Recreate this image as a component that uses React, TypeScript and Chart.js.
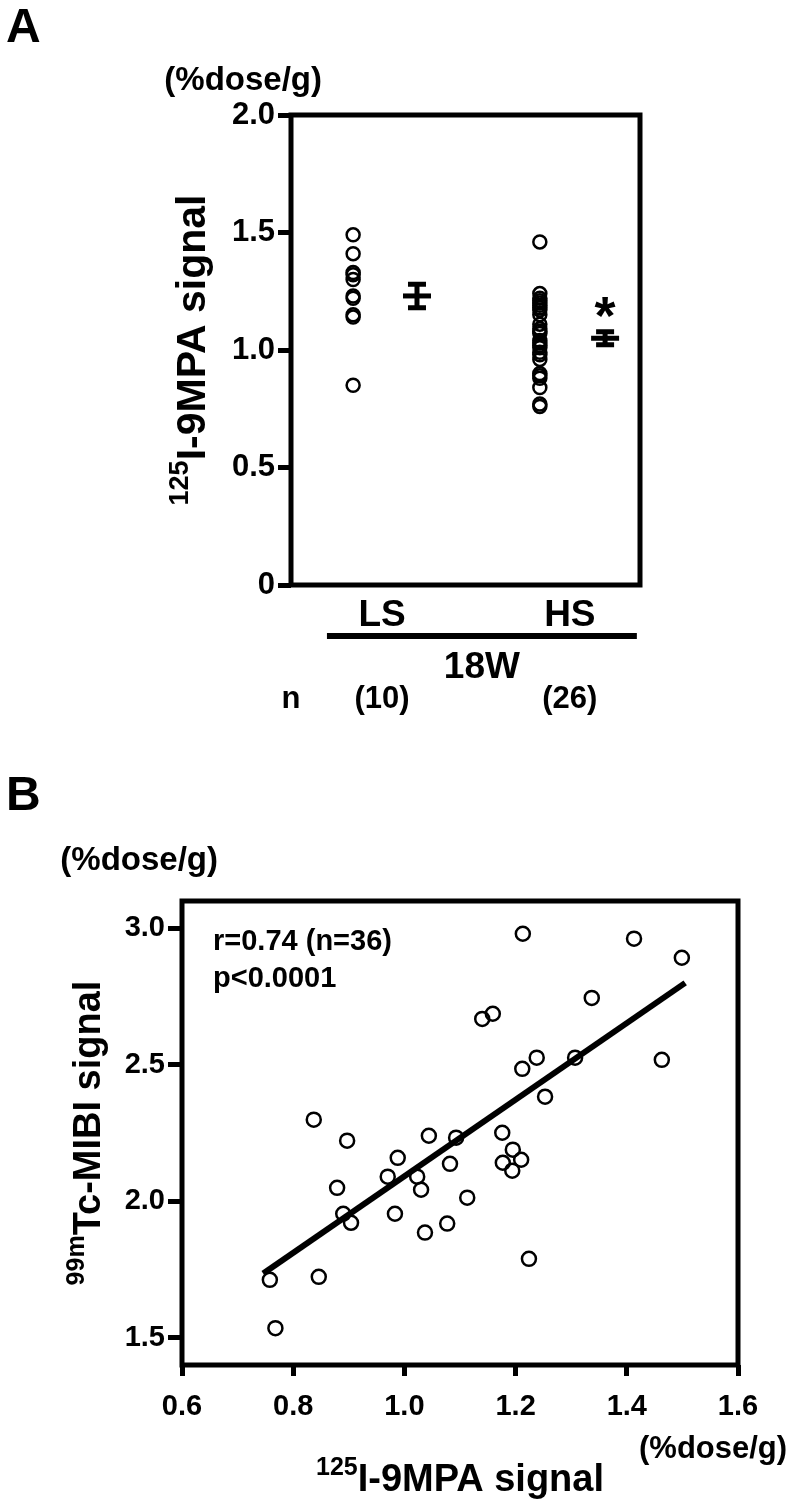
import React, { useEffect, useRef } from 'react';
import { Chart, registerables } from 'chart.js';
Chart.register(...registerables);

// ---------- Panel A data ----------
const groupLabels = ['LS', 'HS'];
const groupCounts = ['(10)', '(26)'];
const groupTitle = '18W';
const lsValues = [1.49, 1.41, 1.33, 1.32, 1.30, 1.23, 1.22, 1.15, 1.14, 0.85];
const hsValues = [1.46, 1.24, 1.22, 1.21, 1.20, 1.19, 1.18, 1.17, 1.15, 1.11, 1.09, 1.08, 1.07,
  1.04, 1.03, 1.02, 1.01, 0.99, 0.98, 0.96, 0.90, 0.89, 0.88, 0.84, 0.77, 0.76];
const groupMeans = [1.23, 1.05];
const groupSEM = [0.05, 0.028];
const yTicksA = [0, 0.5, 1.0, 1.5, 2.0];

// ---------- Panel B data ----------
const mibiX = [1.213, 1.413, 1.499, 1.337, 1.159, 1.140, 1.238, 1.212, 1.307, 1.463, 1.253, 0.837,
  0.758, 0.846, 0.897, 0.879, 0.890, 0.904, 0.970, 0.988, 0.983, 1.023, 1.030, 1.044, 1.093, 1.082,
  1.037, 1.077, 1.113, 1.176, 1.195, 1.210, 1.177, 1.194, 1.224, 0.768];
const mibiY = [2.980, 2.962, 2.892, 2.745, 2.687, 2.668, 2.526, 2.485, 2.526, 2.518, 2.383, 2.299,
  1.712, 1.723, 2.222, 2.049, 1.954, 1.921, 2.090, 2.159, 1.954, 2.090, 2.042, 2.240, 2.233, 2.137,
  1.885, 1.918, 2.013, 2.251, 2.189, 2.152, 2.141, 2.112, 1.789, 1.535];
const fitX = [0.746, 1.505];
const fitY = [1.735, 2.80];
const xTicksB = [0.6, 0.8, 1.0, 1.2, 1.4, 1.6];
const yTicksB = [1.5, 2.0, 2.5, 3.0];
const statText = ['r=0.74 (n=36)', 'p<0.0001'];

// ---------- layout (positions only) ----------
const POS_LS_PTS = 1.78, POS_LS_MEAN = 3.61, POS_HS_PTS = 7.13, POS_HS_MEAN = 9.0;
const POS_LS_LABEL = 2.61, POS_HS_LABEL = 7.99;
const UNDERLINE_FROM = 1.03, UNDERLINE_TO = 9.91;

const FONT = '"Liberation Sans", Arial, Helvetica, sans-serif';
const bf = (px: number) => `bold ${px}px ${FONT}`;

type Part = { t: string; sup?: boolean };
function drawRich(ctx: CanvasRenderingContext2D, parts: Part[], size: number, supSize: number,
  x: number, y: number, align: 'center' | 'left' | 'right', rot: number) {
  ctx.save();
  ctx.translate(x, y);
  ctx.rotate(rot);
  let total = 0;
  const widths = parts.map(p => {
    ctx.font = bf(p.sup ? supSize : size);
    const w = ctx.measureText(p.t).width;
    total += w;
    return w;
  });
  let cx = align === 'center' ? -total / 2 : align === 'right' ? -total : 0;
  ctx.textBaseline = 'alphabetic';
  ctx.textAlign = 'left';
  ctx.fillStyle = '#000';
  parts.forEach((p, i) => {
    ctx.font = bf(p.sup ? supSize : size);
    ctx.fillText(p.t, cx, p.sup ? -size * 0.42 : 0);
    cx += widths[i];
  });
  ctx.restore();
}

function text(ctx: CanvasRenderingContext2D, s: string, size: number, x: number, y: number,
  align: CanvasTextAlign) {
  ctx.save();
  ctx.font = bf(size);
  ctx.fillStyle = '#000';
  ctx.textAlign = align;
  ctx.textBaseline = 'alphabetic';
  ctx.fillText(s, x, y);
  ctx.restore();
}

const panelAPlugin = {
  id: 'panelA',
  afterDraw(c: any) {
    const ctx: CanvasRenderingContext2D = c.ctx;
    const { left, right, top, bottom } = c.chartArea;
    const xs = c.scales.x, ys = c.scales.y;
    ctx.save();
    ctx.strokeStyle = '#000';
    ctx.lineWidth = 5;
    ctx.strokeRect(left, top, right - left, bottom - top);
    const mx = [POS_LS_MEAN, POS_HS_MEAN];
    groupMeans.forEach((m, i) => {
      const px = xs.getPixelForValue(mx[i]);
      const pt = ys.getPixelForValue(m + groupSEM[i]);
      const pb = ys.getPixelForValue(m - groupSEM[i]);
      ctx.lineWidth = 5;
      ctx.beginPath();
      ctx.moveTo(px, pt); ctx.lineTo(px, pb);
      ctx.moveTo(px - 9, pt); ctx.lineTo(px + 9, pt);
      ctx.moveTo(px - 9, pb); ctx.lineTo(px + 9, pb);
      ctx.stroke();
    });
    text(ctx, '*', 54, xs.getPixelForValue(POS_HS_MEAN), ys.getPixelForValue(groupMeans[1] + groupSEM[1]) + 2, 'center');
    text(ctx, groupLabels[0], 37, xs.getPixelForValue(POS_LS_LABEL), bottom + 41, 'center');
    text(ctx, groupLabels[1], 37, xs.getPixelForValue(POS_HS_LABEL), bottom + 41, 'center');
    ctx.lineWidth = 6;
    ctx.beginPath();
    ctx.moveTo(xs.getPixelForValue(UNDERLINE_FROM), bottom + 51);
    ctx.lineTo(xs.getPixelForValue(UNDERLINE_TO), bottom + 51);
    ctx.stroke();
    text(ctx, groupTitle, 37, (xs.getPixelForValue(UNDERLINE_FROM) + xs.getPixelForValue(UNDERLINE_TO)) / 2, bottom + 93, 'center');
    text(ctx, 'n', 31, left, bottom + 123, 'center');
    text(ctx, groupCounts[0], 31, xs.getPixelForValue(POS_LS_LABEL), bottom + 123, 'center');
    text(ctx, groupCounts[1], 31, xs.getPixelForValue(POS_HS_LABEL), bottom + 123, 'center');
    text(ctx, 'A', 48, 6, 42, 'left');
    text(ctx, '(%dose/g)', 33, 322, 90, 'right');
    drawRich(ctx, [{ t: '125', sup: true }, { t: 'I-9MPA signal' }], 41, 27,
      205, (top + bottom) / 2, 'center', -Math.PI / 2);
    ctx.restore();
  },
};

const panelBPlugin = {
  id: 'panelB',
  afterDraw(c: any) {
    const ctx: CanvasRenderingContext2D = c.ctx;
    const { left, right, top, bottom } = c.chartArea;
    ctx.save();
    ctx.strokeStyle = '#000';
    ctx.lineWidth = 5;
    ctx.strokeRect(left, top, right - left, bottom - top);
    text(ctx, statText[0], 29, left + 31, top + 49, 'left');
    text(ctx, statText[1], 29, left + 31, top + 86, 'left');
    text(ctx, 'B', 48, 6, 70, 'left');
    text(ctx, '(%dose/g)', 33, 218, 130, 'right');
    text(ctx, '(%dose/g)', 31, 639, bottom + 93, 'left');
    drawRich(ctx, [{ t: '125', sup: true }, { t: 'I-9MPA signal' }], 38, 25,
      (left + right) / 2, bottom + 126, 'center', 0);
    drawRich(ctx, [{ t: '99m', sup: true }, { t: 'Tc-MIBI signal' }], 38, 25,
      100, (top + bottom) / 2, 'center', -Math.PI / 2);
    ctx.restore();
  },
};

const circle = {
  pointStyle: 'circle' as const,
  pointRadius: 6.5,
  pointBorderWidth: 2.5,
  pointBorderColor: '#000',
  pointBackgroundColor: 'rgba(0,0,0,0)',
  showLine: false,
};

export default function App() {
  const refA = useRef<HTMLCanvasElement>(null);
  const refB = useRef<HTMLCanvasElement>(null);

  useEffect(() => {
    const tickFont = { family: FONT, weight: 'bold' as const, size: 31 };
    const chartA = new Chart(refA.current!, {
      type: 'scatter',
      data: {
        datasets: [
          { ...circle, data: lsValues.map(v => ({ x: POS_LS_PTS, y: v })) },
          { ...circle, data: hsValues.map(v => ({ x: POS_HS_PTS, y: v })) },
          {
            data: [{ x: POS_LS_MEAN, y: groupMeans[0] }, { x: POS_HS_MEAN, y: groupMeans[1] }],
            pointStyle: 'line', pointRadius: 14, pointBorderWidth: 5, pointBorderColor: '#000',
            showLine: false,
          } as any,
        ],
      },
      options: {
        animation: false,
        responsive: true,
        maintainAspectRatio: false,
        events: [],
        layout: { padding: { top: 115, bottom: 155, left: 0, right: 160 } },
        plugins: { legend: { display: false }, tooltip: { enabled: false } },
        scales: {
          x: { type: 'linear', min: 0, max: 10, display: false },
          y: {
            type: 'linear', min: 0, max: 2.0,
            afterBuildTicks: (s: any) => { s.ticks = yTicksA.map(v => ({ value: v })); },
            afterFit: (s: any) => { s.width = 291; },
            ticks: {
              color: '#000', font: tickFont, padding: 3, autoSkip: false,
              callback: (v: any) => (Number(v) === 0 ? '0' : Number(v).toFixed(1)),
            },
            grid: { drawOnChartArea: false, tickLength: 13, tickWidth: 5, tickColor: '#000' },
            border: { display: false },
          },
        },
      },
      plugins: [panelAPlugin],
    } as any);

    const chartB = new Chart(refB.current!, {
      type: 'scatter',
      data: {
        datasets: [
          {
            type: 'line',
            data: fitX.map((x, i) => ({ x, y: fitY[i] })),
            borderColor: '#000', borderWidth: 6, pointRadius: 0, fill: false,
          } as any,
          { ...circle, pointRadius: 7, data: mibiX.map((x, i) => ({ x, y: mibiY[i] })) },
        ],
      },
      options: {
        animation: false,
        responsive: true,
        maintainAspectRatio: false,
        events: [],
        layout: { padding: { top: 161, bottom: 0, left: 0, right: 62 } },
        plugins: { legend: { display: false }, tooltip: { enabled: false } },
        scales: {
          x: {
            type: 'linear', min: 0.6, max: 1.6,
            afterBuildTicks: (s: any) => { s.ticks = xTicksB.map(v => ({ value: v })); },
            afterFit: (s: any) => { s.height = 139; },
            ticks: {
              color: '#000', font: { ...tickFont, size: 29 }, padding: 14, autoSkip: false, maxRotation: 0,
              callback: (v: any) => Number(v).toFixed(1),
            },
            grid: { drawOnChartArea: false, tickLength: 11, tickWidth: 5, tickColor: '#000' },
            border: { display: false },
          },
          y: {
            type: 'linear', min: 1.4, max: 3.1,
            afterBuildTicks: (s: any) => { s.ticks = yTicksB.map(v => ({ value: v })); },
            afterFit: (s: any) => { s.width = 182; },
            ticks: {
              color: '#000', font: { ...tickFont, size: 29 }, padding: 3, autoSkip: false,
              callback: (v: any) => Number(v).toFixed(1),
            },
            grid: { drawOnChartArea: false, tickLength: 14, tickWidth: 5, tickColor: '#000' },
            border: { display: false },
          },
        },
      },
      plugins: [panelBPlugin],
    } as any);

    return () => { chartA.destroy(); chartB.destroy(); };
  }, []);

  return (
    <div style={{ position: 'absolute', left: 0, top: 0, width: 800, height: 1504, background: '#fff' }}>
      <div style={{ position: 'absolute', left: 0, top: 0, width: 800, height: 740 }}>
        <canvas ref={refA} />
      </div>
      <div style={{ position: 'absolute', left: 0, top: 740, width: 800, height: 764 }}>
        <canvas ref={refB} />
      </div>
    </div>
  );
}
